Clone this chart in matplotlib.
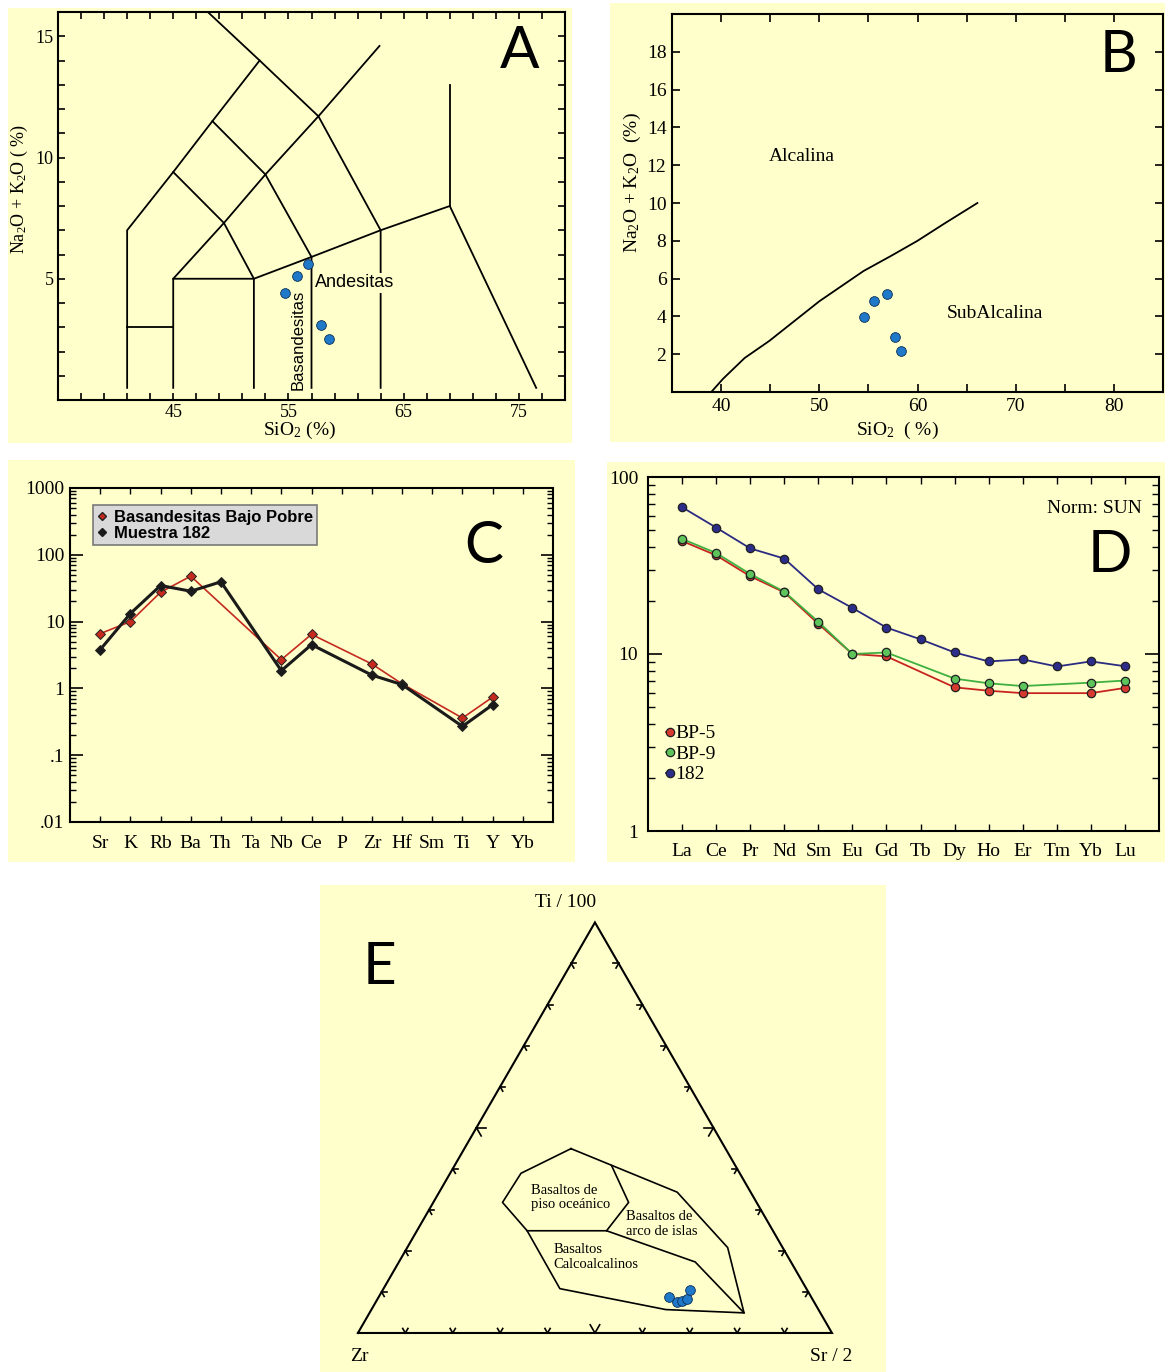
import numpy as np
import matplotlib
matplotlib.use('Agg')
import matplotlib.pyplot as plt
from matplotlib.patches import Rectangle
from matplotlib.lines import Line2D
from matplotlib.ticker import FixedLocator, LogLocator, NullFormatter

plt.rcParams['font.family'] = ['Liberation Serif', 'DejaVu Serif']
plt.rcParams['mathtext.default'] = 'regular'

BG = '#ffffcc'
DOT = '#1f78c8'
W, H = 1165, 1372

# ---------- datos ----------
# A: diagrama TAS (SiO2, Na2O+K2O)
tas_lines = [
    ([41, 41, 45, 48.4, 52.5], [0.5, 7, 9.4, 11.5, 14]),
    ([48, 52.5, 57.6, 63, 63], [16, 14, 11.7, 7, 0.5]),
    ([45, 45, 52, 57, 63, 69, 76.5], [0.5, 5, 5, 5.9, 7, 8, 0.5]),
    ([45, 49.4, 53, 57.6, 62.9], [5, 7.3, 9.3, 11.7, 14.6]),
    ([45, 49.4, 52, 52], [9.4, 7.3, 5, 0.5]),
    ([48.4, 53, 57, 57], [11.5, 9.3, 5.9, 0.5]),
    ([41, 45], [3, 3]),
    ([69, 69], [8, 13]),
]
sio2_a = [56.7, 55.7, 54.7, 57.8, 58.5]
alk_a = [5.6, 5.1, 4.4, 3.1, 2.5]

# B: Irvine & Baragar
ib_sio2 = [39.0, 40.2, 42.4, 44.9, 50.0, 54.5, 57.3, 60.0, 62.7, 66.1]
ib_alk = [0.0, 0.7, 1.8, 2.7, 4.8, 6.4, 7.2, 8.0, 8.9, 10.0]
sio2_b = [54.6, 55.6, 56.85, 57.7, 58.35]
alk_b = [3.95, 4.8, 5.2, 2.9, 2.15]

# C: multielementos
elems_c = ['Sr', 'K', 'Rb', 'Ba', 'Th', 'Ta', 'Nb', 'Ce', 'P', 'Zr', 'Hf', 'Sm', 'Ti', 'Y', 'Yb']
bajo_pobre = [6.6, 10.0, 27.5, 47.9, np.nan, np.nan, 2.69, 6.45, np.nan, 2.32, 1.17, np.nan, 0.36, 0.74, np.nan]
muestra_182 = [3.8, 13.2, 34.7, 28.5, 39.4, np.nan, 1.84, 4.52, np.nan, 1.58, 1.14, np.nan, 0.27, 0.57, np.nan]

# D: tierras raras
ree = ['La', 'Ce', 'Pr', 'Nd', 'Sm', 'Eu', 'Gd', 'Tb', 'Dy', 'Ho', 'Er', 'Tm', 'Yb', 'Lu']
bp5 = [43.5, 36.1, 27.5, 22.3, 14.8, 10.0, 9.7, np.nan, 6.48, 6.2, 6.01, np.nan, 6.01, 6.43]
bp9 = [44.7, 37.2, 28.3, 22.5, 15.2, 10.0, 10.2, np.nan, 7.26, 6.83, 6.59, np.nan, 6.89, 7.08]
m182 = [67.5, 51.8, 39.5, 34.6, 23.2, 18.2, 14.1, 12.1, 10.2, 9.08, 9.32, 8.5, 9.08, 8.53]

# E: Ti/100 - Zr - Sr/2 (porcentajes de Ti y Sr)
env_ti = [44.9, 34.3, 20.8, 4.9, 5.7, 10.8, 24.9, 31.8, 38.9, 44.9]
env_sr = [22.5, 50.2, 67.6, 79.0, 62.1, 37.2, 23.25, 14.6, 14.95, 22.5]
div1_ti = [40.8, 31.8, 24.9]
div1_sr = [33.1, 41.2, 40.0]
div2_ti = [24.9, 24.9, 17.3, 4.9]
div2_sr = [23.25, 40.0, 62.5, 79.0]
pts_ti = [8.7, 7.5, 7.75, 8.3, 10.4]
pts_sr = [61.25, 63.6, 64.4, 65.25, 64.8]


def rect(l, t, r, b):
    return [l / W, 1 - b / H, (r - l) / W, (b - t) / H]


def bg_box(fig, l, t, r, b):
    fig.add_artist(Rectangle((l / W, 1 - b / H), (r - l) / W, (b - t) / H,
                             transform=fig.transFigure, fc=BG, ec='none', zorder=-10))


def big_letter(ax, x, y, s):
    ax.text(x, y, s, transform=ax.transAxes, fontsize=42, family=['Lato', 'DejaVu Sans'],
            ha='center', va='center', color='black')


fig = plt.figure(figsize=(W / 100, H / 100), dpi=100)
for b in [(8, 8, 572, 443), (610, 3, 1165, 442), (8, 460, 575, 862),
          (607, 462, 1165, 862), (320, 885, 886, 1372)]:
    bg_box(fig, *b)

# ---------- A ----------
axA = fig.add_axes(rect(58, 12, 565, 400), facecolor=BG)
for xs, ys in tas_lines:
    axA.plot(xs, ys, color='black', lw=1.3)
axA.plot(sio2_a, alk_a, 'o', color=DOT, mec='#0b2e55', mew=0.6, ms=7, zorder=5)
axA.set_xlim(35, 79)
axA.set_ylim(0, 16)
axA.xaxis.set_major_locator(FixedLocator([45, 55, 65, 75]))
axA.xaxis.set_minor_locator(FixedLocator(np.arange(35, 80, 2)))
axA.yaxis.set_major_locator(FixedLocator([5, 10, 15]))
axA.yaxis.set_minor_locator(FixedLocator(np.arange(0, 17, 1)))
axA.tick_params(which='both', direction='in', top=True, right=True, length=5, width=1.2,
                labelsize=13, pad=3)
for s in axA.spines.values():
    s.set_linewidth(1.5)
axA.text(57.3, 4.83, 'Andesitas', family=['Liberation Sans'], fontsize=13, ha='left', va='center',
         bbox=dict(fc=BG, ec='none', pad=1), zorder=4)
axA.text(55.85, 0.42, 'Basandesitas', family=['Liberation Sans'], fontsize=12, rotation=90,
         ha='center', va='bottom')
axA.set_ylabel('Na$_2$O + K$_2$O ( %)', fontsize=13)
axA.yaxis.set_label_coords(-0.055, 0.544)
axA.set_xlabel('SiO$_2$ (%)', fontsize=14)
axA.xaxis.set_label_coords(0.477, -0.05)
big_letter(axA, 0.911, 0.897, 'A')

# ---------- B ----------
axB = fig.add_axes(rect(672, 14, 1163, 392), facecolor=BG)
axB.plot(ib_sio2, ib_alk, color='black', lw=1.3)
axB.plot(sio2_b, alk_b, 'o', color=DOT, mec='#0b2e55', mew=0.6, ms=7, zorder=5)
axB.set_xlim(35, 85)
axB.set_ylim(0, 20)
axB.xaxis.set_major_locator(FixedLocator([40, 50, 60, 70, 80]))
axB.xaxis.set_minor_locator(FixedLocator([35, 45, 55, 65, 75, 85]))
axB.set_yticks(np.arange(0, 21, 2))
axB.set_yticklabels([''] + [str(v) for v in range(2, 19, 2)] + [''])
axB.tick_params(which='both', direction='in', top=True, right=True, length=6, width=1.2,
                labelsize=14, pad=4)
for s in axB.spines.values():
    s.set_linewidth(1.5)
axB.text(44.9, 12.45, 'Alcalina', fontsize=14, ha='left', va='center')
axB.text(63.0, 4.15, 'SubAlcalina', fontsize=14, ha='left', va='center')
axB.set_ylabel('Na$_2$O + K$_2$O  (%)', fontsize=14)
axB.yaxis.set_label_coords(-0.06, 0.553)
axB.set_xlabel('SiO$_2$  ( %)', fontsize=14)
axB.xaxis.set_label_coords(0.46, -0.075)
big_letter(axB, 0.91, 0.889, 'B')

# ---------- C ----------
axC = fig.add_axes(rect(70, 488, 553, 822), facecolor=BG)
xc = np.arange(len(elems_c))
for vals, col, lw, mfc in [(bajo_pobre, '#c42a1e', 1.2, '#c42a1e'),
                           (muestra_182, '#1a1a1a', 2.2, '#1a1a1a')]:
    v = np.array(vals)
    ok = ~np.isnan(v)
    axC.plot(xc[ok], v[ok], color=col, lw=lw, marker='D', ms=5.5, mfc=mfc, mec='#222222', mew=0.7)
axC.set_yscale('log')
axC.set_ylim(0.01, 1000)
axC.set_xlim(-1, 15)
axC.set_xticks(xc)
axC.set_xticklabels(elems_c)
axC.set_yticks([0.01, 0.1, 1, 10, 100, 1000])
axC.set_yticklabels(['.01', '.1', '1', '10', '100', '1000'])
axC.yaxis.set_minor_locator(LogLocator(base=10, subs=np.arange(2, 10)))
axC.yaxis.set_minor_formatter(NullFormatter())
axC.tick_params(axis='y', which='major', direction='in', right=True, length=9, width=1.2,
                labelsize=14, pad=4)
axC.tick_params(axis='y', which='minor', direction='in', right=True, length=4.5, width=1)
axC.tick_params(axis='x', direction='in', top=True, length=4, width=1, labelsize=14, pad=9)
for s in axC.spines.values():
    s.set_linewidth(1.5)
handles = [Line2D([], [], ls='none', marker='D', ms=4, mfc='#c42a1e', mec='#222222'),
           Line2D([], [], ls='none', marker='D', ms=4, mfc='#1a1a1a', mec='#1a1a1a')]
legC = axC.legend(handles, ['Basandesitas Bajo Pobre', 'Muestra 182'], loc='upper left',
                  bbox_to_anchor=(0.047, 0.948), fancybox=False, framealpha=1,
                  facecolor='#d9d9d9', edgecolor='#7a7a7a', borderpad=0.25, labelspacing=0.1,
                  handlelength=0.6, handletextpad=0.4, borderaxespad=0,
                  prop={'family': 'Liberation Sans', 'weight': 'bold', 'size': 12})
legC.get_frame().set_linewidth(1.2)
big_letter(axC, 0.857, 0.826, 'C')

# ---------- D ----------
axD = fig.add_axes(rect(648, 477, 1159, 831), facecolor=BG)
xd = np.arange(len(ree))
for vals, lc, mc, lab in [(bp5, '#c8241f', '#d63a30', 'BP-5'),
                          (bp9, '#3fb03f', '#5cc45a', 'BP-9'),
                          (m182, '#2a2a82', '#2c2c8a', '182')]:
    v = np.array(vals)
    ok = ~np.isnan(v)
    axD.plot(xd[ok], v[ok], color=lc, lw=1.3, marker='o', ms=6, mfc=mc, mec='#202020',
             mew=0.9, label=lab)
axD.set_yscale('log')
axD.set_ylim(1, 100)
axD.set_xlim(-1, 14)
axD.set_xticks(xd)
axD.set_xticklabels(ree)
axD.set_yticks([1, 10, 100])
axD.set_yticklabels(['1', '10', '100'])
axD.yaxis.set_minor_locator(LogLocator(base=10, subs=np.arange(2, 10)))
axD.yaxis.set_minor_formatter(NullFormatter())
axD.tick_params(axis='y', which='major', direction='in', right=True, length=10, width=1.2,
                labelsize=14, pad=7)
axD.tick_params(axis='y', which='minor', direction='in', right=True, length=5, width=1)
axD.tick_params(axis='x', direction='in', top=True, length=5, width=1, labelsize=14, pad=9)
for s in axD.spines.values():
    s.set_linewidth(1.5)
axD.legend(loc='upper left', bbox_to_anchor=(0.035, 0.30), frameon=False, borderpad=0,
           handlelength=0.4, handletextpad=0.1, labelspacing=0.15, borderaxespad=0,
           prop={'family': 'Liberation Serif', 'size': 14})
axD.text(0.967, 0.912, 'Norm: SUN', transform=axD.transAxes, fontsize=14, ha='right', va='center')
big_letter(axD, 0.904, 0.777, 'D')

# ---------- E ----------
axE = fig.add_axes(rect(320, 885, 886, 1372), facecolor=BG)
axE.set_xlim(-0.080, 1.114)
axE.set_ylim(-0.0823, 0.945)
axE.set_axis_off()
S3 = np.sqrt(3) / 2


def tern(ti, sr):
    ti = np.asarray(ti) / 100.0
    sr = np.asarray(sr) / 100.0
    return sr + ti / 2, ti * S3


tx, ty = tern([0, 0, 100, 0], [0, 100, 0, 0])
axE.plot(tx, ty, color='black', lw=1.5, solid_joinstyle='miter')

# marcas de los lados (chevrones)
corners = [np.array([0.0, 0.0]), np.array([1.0, 0.0]), np.array([0.5, S3])]
centroid = sum(corners) / 3
for i in range(3):
    p0, p1 = corners[i], corners[(i + 1) % 3]
    d = (p1 - p0) / np.linalg.norm(p1 - p0)
    n = np.array([-d[1], d[0]])
    if np.dot(centroid - p0, n) < 0:
        n = -n
    for f in np.arange(1, 10) / 10:
        p = p0 + f * (p1 - p0)
        L = 0.02 if abs(f - 0.5) < 1e-6 else 0.011
        for sgn in (1, -1):
            arm = np.cos(np.pi / 6) * n + sgn * np.sin(np.pi / 6) * d
            q = p + L * arm
            axE.plot([p[0], q[0]], [p[1], q[1]], color='black', lw=1.2)

for ti_s, sr_s in [(env_ti, env_sr), (div1_ti, div1_sr), (div2_ti, div2_sr)]:
    x, y = tern(ti_s, sr_s)
    axE.plot(x, y, color='black', lw=1.2)
px, py = tern(pts_ti, pts_sr)
axE.plot(px, py, 'o', color=DOT, mec='#0b2e55', mew=0.6, ms=7, zorder=5)

axE.text(0.365, 0.286, 'Basaltos de\npiso oceánico', fontsize=10.5, ha='left', va='center',
         linespacing=1.15)
axE.text(0.565, 0.230, 'Basaltos de\narco de islas', fontsize=10.5, ha='left', va='center',
         linespacing=1.15)
axE.text(0.413, 0.160, 'Basaltos\nCalcoalcalinos', fontsize=10.5, ha='left', va='center',
         linespacing=1.15)
axE.text(0.439, 0.909, 'Ti / 100', fontsize=14, ha='center', va='center')
axE.text(0.002, -0.05, 'Zr', fontsize=14, ha='center', va='center')
axE.text(0.998, -0.05, 'Sr / 2', fontsize=14, ha='center', va='center')
axE.text(0.046, 0.772, 'E', transform=axE.transData, fontsize=42, family=['Lato', 'DejaVu Sans'],
         ha='center', va='center')

fig.savefig('out.png', dpi=100, facecolor='white')
